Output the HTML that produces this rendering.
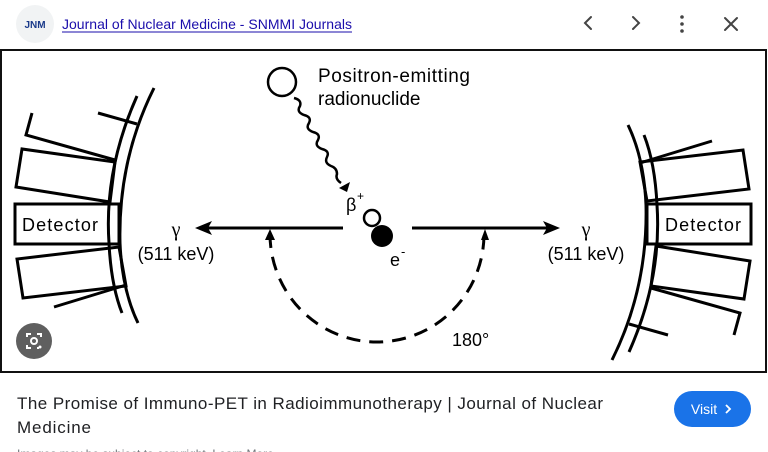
<!DOCTYPE html>
<html><head><meta charset="utf-8"><style>
html,body{margin:0;padding:0;width:768px;height:452px;overflow:hidden;background:#fff;font-family:"Liberation Sans",sans-serif}
</style></head><body>
<svg width="768" height="452" viewBox="0 0 768 452" xmlns="http://www.w3.org/2000/svg">
<circle cx="35" cy="24" r="19" fill="#f1f3f4"/>
<text x="35" y="28" font-size="10" font-weight="bold" fill="#1a3a8a" text-anchor="middle" font-family="Liberation Sans,sans-serif">JNM</text>
<text x="62" y="29" font-size="14" fill="#1a0dab" font-family="Liberation Sans,sans-serif" textLength="290">Journal of Nuclear Medicine - SNMMI Journals</text>
<line x1="62" y1="32" x2="352" y2="32" stroke="#1a0dab" stroke-width="1"/>
<g stroke="#444" stroke-width="2" fill="none" stroke-linecap="round">
<polyline points="591,17 585,23 591,29"/>
<polyline points="633,17 639,23 633,29"/>
<line x1="725" y1="18" x2="737" y2="30"/><line x1="737" y1="18" x2="725" y2="30"/>
</g>
<g fill="#444"><circle cx="682" cy="17" r="1.8"/><circle cx="682" cy="24" r="1.8"/><circle cx="682" cy="31" r="1.8"/></g>
<rect x="1" y="50" width="765" height="322" fill="#fff" stroke="#111" stroke-width="2"/>
<g id="det" stroke="#000" stroke-width="3" fill="none" stroke-linejoin="miter">
<rect x="15" y="204" width="104" height="40" fill="#fff"/>
<polygon points="22,149 16,187 110,202 115,162"/>
<polygon points="17,259 23,298 126,286 119,247"/>
<polyline points="32,113 26,135 115,160"/>
<line x1="54" y1="307" x2="126" y2="285"/>
<line x1="98" y1="113" x2="137" y2="124"/>
<path d="M137,96 Q104,170 109,243 Q111,285 122,313"/>
<path d="M154,88 Q118,160 120,243 Q122,290 138,323"/>
<line x1="108" y1="204" x2="121" y2="204"/><line x1="108" y1="244" x2="121" y2="244"/>
</g>
<use href="#det" transform="rotate(180 383 224)"/>
<text x="22" y="231" font-size="18" font-family="Liberation Sans,sans-serif" textLength="76">Detector</text>
<text x="665" y="231" font-size="18" font-family="Liberation Sans,sans-serif" textLength="76">Detector</text>
<g stroke="#000" stroke-width="3" fill="none">
<line x1="205" y1="228" x2="343" y2="228"/><line x1="412" y1="228" x2="550" y2="228"/>
<path d="M270,234 A107,108 0 0 0 484,234" stroke-dasharray="14,9"/>
<circle cx="282" cy="82" r="14" stroke-width="2.5"/>
<path d="M294,98 q8,2 6,8 q-4,6 4,9 q8,2 5,8 q-4,6 4,9 q8,2 5,8 q-4,6 4,9 q8,2 5,8 q-3,6 4,9 q6,2 6,8 q-2,5 4,9" stroke-width="2.5"/>
<circle cx="372" cy="218" r="8" fill="#fff" stroke-width="2.5"/>
</g>
<circle cx="382" cy="236" r="11" fill="#000"/>
<polygon points="195,228 212,221 208,228 212,235" fill="#000"/>
<polygon points="560,228 543,221 547,228 543,235" fill="#000"/>
<polygon points="339,188 350,182 347,192" fill="#000"/>
<polygon points="270,229 265,240 275,240" fill="#000"/>
<polygon points="485,229 481,240 489,240" fill="#000"/>
<g font-family="Liberation Sans,sans-serif" fill="#000">
<text x="318" y="82" font-size="19" textLength="152">Positron-emitting</text>
<text x="318" y="105" font-size="19">radionuclide</text>
<text x="346" y="211" font-size="18">β</text><text x="357" y="200" font-size="12">+</text>
<text x="390" y="266" font-size="18">e</text><text x="401" y="256" font-size="13">-</text>
<text x="176" y="236" font-size="20" text-anchor="middle" font-family="Liberation Serif,serif">γ</text>
<text x="176" y="260" font-size="18" text-anchor="middle">(511 keV)</text>
<text x="586" y="236" font-size="20" text-anchor="middle" font-family="Liberation Serif,serif">γ</text>
<text x="586" y="260" font-size="18" text-anchor="middle">(511 keV)</text>
<text x="452" y="346" font-size="18">180°</text>
</g>
<circle cx="34" cy="341" r="18" fill="#5f5f5f"/>
<g stroke="#fff" stroke-width="2" fill="none"><path d="M27,337 v-3 h4 M37,334 h4 v3 M27,345 v3 h4 M37,348 h2"/><circle cx="34" cy="341" r="3"/></g>
<circle cx="40" cy="347" r="1.5" fill="#fff"/>
<g font-family="Liberation Sans,sans-serif" fill="#202124">
<text x="17" y="409" font-size="17" textLength="586">The Promise of Immuno-PET in Radioimmunotherapy | Journal of Nuclear</text>
<text x="17" y="433" font-size="17" textLength="74">Medicine</text>
</g>
<rect x="674" y="391" width="77" height="36" rx="18" fill="#1a73e8"/>
<text x="704" y="414" font-size="14" fill="#fff" text-anchor="middle" font-family="Liberation Sans,sans-serif">Visit</text>
<polyline points="726,405 730,409 726,413" stroke="#fff" stroke-width="1.8" fill="none"/>
<text x="17" y="458" font-size="12" fill="#70757a" font-family="Liberation Sans,sans-serif">Images may be subject to copyright. Learn More</text>
</svg>
</body></html>
